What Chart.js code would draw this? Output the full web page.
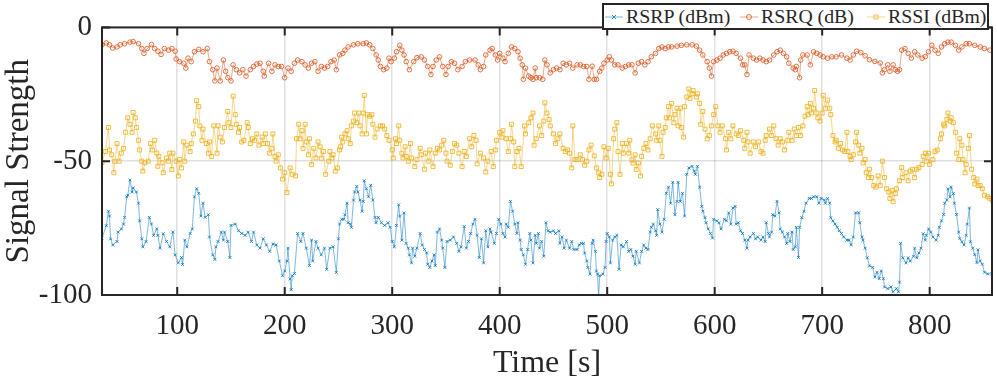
<!DOCTYPE html>
<html lang="en">
<head>
<meta charset="UTF-8">
<title>Signal Strength</title>
<script src="https://cdn.jsdelivr.net/npm/chart.js"></script>
<style>
  body { margin: 0; background: #fff; }
  .wrap { position: relative; width: 997px; height: 382px; }
  .legend { position: absolute; left: 602px; top: 3px; width: 387px; height: 27px; box-sizing: border-box;
            border: 2px solid #262626; background: #fff; font-family: "Liberation Serif", serif;
            font-size: 19.8px; color: #262626; }
  .legend .item { position: absolute; top: 0; height: 23px; display: flex; align-items: center; white-space: nowrap; }
  .legend svg { margin-right: 3px; }
</style>
</head>
<body>
<div class="wrap">
  <canvas id="signalChart" width="997" height="382"></canvas>
  <div class="legend">
    <span class="item" style="left:1px">
      <svg width="18" height="10"><line x1="0" y1="5" x2="18" y2="5" stroke="rgba(0,114,189,0.5)"/><path d="M7 3L11 7M11 3L7 7" stroke="rgba(0,114,189,0.8)"/></svg>RSRP (dBm)</span>
    <span class="item" style="left:136px">
      <svg width="18" height="10"><line x1="0" y1="5" x2="18" y2="5" stroke="rgba(217,83,25,0.5)"/><circle cx="9" cy="5" r="2.5" fill="none" stroke="rgba(217,83,25,0.8)"/></svg>RSRQ (dB)</span>
    <span class="item" style="left:263px">
      <svg width="18" height="10"><line x1="0" y1="5" x2="18" y2="5" stroke="rgba(237,177,32,0.5)"/><rect x="7" y="3" width="4" height="4" fill="none" stroke="rgba(237,177,32,0.8)"/></svg>RSSI (dBm)</span>
  </div>
</div>
<script>
  // tick positions
  const xTicks = [100, 200, 300, 400, 500, 600, 700, 800];
  const yTicks = [-100, -50, 0];

  // RSRP (dBm)
  const rsrpTime = [
    30,34,36,37,38,40,44,45,48,50,
    51,53,54,56,58,59,62,64,65,67,
    68,71,74,76,78,81,82,84,87,90,
    93,96,98,101,104,105,107,109,112,114,
    116,118,120,122,124,126,129,130,133,135,
    136,138,141,143,144,147,149,150,154,157,
    160,163,166,169,171,174,177,180,183,186,
    189,192,195,198,200,202,203,205,206,207,
    209,212,215,217,220,223,225,226,229,231,
    234,237,239,242,245,248,250,251,253,255,
    256,258,259,261,262,264,265,267,268,270,
    272,273,274,276,278,280,282,284,285,287,
    290,293,296,298,300,302,304,306,307,309,
    311,313,315,316,318,319,321,323,326,328,
    330,332,333,335,337,339,340,342,344,346,
    347,349,351,354,357,360,362,364,367,369,
    371,373,375,377,379,381,383,385,387,389,
    391,392,395,397,399,401,403,405,406,408,
    410,412,414,416,417,419,420,422,424,426,
    428,429,431,433,434,436,437,439,441,443,
    445,447,450,452,455,456,458,460,462,465,
    467,469,472,474,476,478,479,481,482,484,
    486,487,489,490,491,492,493,496,498,499,
    500,502,503,505,507,509,511,513,515,518,
    520,522,524,526,527,530,532,534,536,538,
    540,541,543,545,546,547,549,551,553,555,
    557,559,561,563,565,566,568,570,572,574,
    576,579,581,582,584,586,588,589,591,592,
    594,596,598,599,602,604,606,609,611,613,
    615,617,619,620,622,624,626,628,630,631,
    633,636,638,640,643,645,647,648,650,651,
    653,654,656,658,660,661,663,665,667,668,
    670,672,673,675,676,678,679,681,683,685,
    688,690,692,695,697,699,702,703,705,707,
    708,710,712,714,716,718,720,723,725,727,
    729,731,734,735,737,738,740,742,744,747,
    749,751,753,755,757,758,761,764,766,769,
    771,772,773,775,778,780,782,785,786,788,
    790,792,794,796,797,799,801,803,806,808,
    809,811,813,814,816,817,819,820,822,823,
    825,827,828,830,832,834,835,837,838,840,
    842,844,845,847,849,851,854,858
  ];
  const rsrpDbm = [
    -78.7,-74.1,-68.7,-70.5,-79,-81.3,-80,-76.5,-75.3,-73.5,
    -71,-63.3,-62.7,-57,-61.5,-60,-61.5,-65.7,-72.3,-79,
    -82,-80,-71,-73.5,-77.7,-75.3,-77.7,-82.5,-77.1,-80,
    -82,-76.5,-85,-88,-86,-88.6,-79.5,-82,-77,-75.3,
    -63.3,-60.3,-62,-70.5,-65.7,-71,-70,-78.3,-85,-86.7,
    -82,-80,-76.5,-79.5,-76.5,-80,-86,-74,-73.5,-76,
    -77,-77.7,-76.5,-80,-76.5,-81.3,-82.5,-79,-81.3,-83.7,
    -81,-81.3,-87.3,-92.8,-91,-87.3,-82.5,-94,-98,-92.8,
    -92,-77,-80,-77,-82.5,-89,-79.5,-87.3,-80,-82.5,
    -85,-82.5,-90.4,-82.5,-82,-91.6,-79,-73.5,-71.7,-71.7,
    -70,-65.7,-73,-73.5,-74.7,-64.5,-61.5,-59.4,-61.5,-64.5,
    -68.7,-65,-57.3,-60.3,-63.3,-59,-64.5,-71,-73,-71,
    -73,-74,-73,-74.7,-80,-82,-74,-66.3,-70.5,-79.5,
    -69.3,-80.7,-82.5,-85,-88,-82.5,-85.5,-82.5,-77,-81.3,
    -83,-84.3,-88.5,-89.7,-87.3,-85,-89,-76.5,-75.3,-79.5,
    -82.5,-89.7,-80,-79.5,-78.3,-80.7,-83.7,-82,-74.4,-82.5,
    -80,-77,-73.5,-71.7,-77.7,-86,-79,-88,-76,-82,
    -75.3,-76.5,-80.7,-77,-71.7,-73.5,-77,-78.3,-73.5,-74.7,
    -65,-68.7,-73.5,-77,-73,-79.5,-83,-85,-88.5,-83,
    -77,-79.5,-88,-77.7,-80.7,-77,-82.5,-80,-85.5,-73,
    -76,-76.5,-76,-77,-76,-80.7,-78.3,-82.5,-79.5,-82.5,
    -80,-83,-83,-81.3,-80.7,-80.7,-84.3,-87.3,-89.7,-92.2,
    -80.7,-79.5,-83.7,-91,-92.2,-101,-92.8,-92.2,-89.7,-80,
    -77,-78.3,-88,-79.5,-78.3,-77.7,-90.4,-81.3,-82,-80,
    -83.7,-83,-85.5,-88.5,-83.7,-88,-83.7,-81.3,-82.5,-83,
    -76.5,-74.7,-73.5,-76,-77.7,-68.1,-73.5,-76.5,-71.7,-62,
    -59.7,-65.7,-57.9,-70,-65,-57.9,-65,-62,-70.5,-54.9,
    -52.5,-51.9,-53.7,-54.9,-51.9,-59.7,-66.9,-68.7,-71.1,-73,
    -75.3,-77,-78.7,-71.7,-72.3,-73,-75.3,-71.7,-72.3,-69.3,
    -73.5,-67.5,-66.9,-73.5,-73,-76,-77,-79.5,-82.5,-79.5,
    -78.3,-77,-79,-78.3,-79.5,-78.3,-80,-73,-77,-78.3,
    -76.5,-70,-70.5,-65,-69.3,-75.3,-76.5,-78.3,-80.7,-77,
    -80,-76.5,-83,-82,-74.7,-86,-74.7,-71.1,-68.7,-65.7,
    -63.9,-63.9,-63.3,-63.3,-65.7,-63.9,-64.5,-65.7,-63.9,-65.7,
    -71.1,-72.3,-73.5,-74.7,-76,-77,-78.3,-79.5,-79.5,-81.3,
    -78.3,-69.3,-69.3,-73,-78.3,-79.5,-82.5,-86.1,-89.1,-89.7,
    -93.3,-91.5,-93.9,-91,-93.9,-97,-97.6,-97,-98.8,-97.6,
    -98.8,-95.2,-80.7,-86.1,-88,-86.1,-87.3,-85.5,-82.5,-86.1,
    -84.3,-82.5,-77.1,-79.5,-77.7,-75.3,-76.5,-78.3,-79.5,-77.7,
    -74.7,-72.3,-69.9,-65.7,-64.5,-60.3,-63.3,-59.7,-62.1,-65.7,
    -69.9,-76.5,-78.9,-80.1,-81.3,-77.7,-73.5,-67.5,-80.1,-82.5,
    -84.9,-87.9,-83.1,-87.3,-88.5,-91.5,-92.1,-92.1
  ];

  // RSRQ (dB)
  const rsrqTime = [
    30,34,37,40,44,47,51,56,59,64,
    67,69,72,76,79,82,85,88,92,95,
    98,99,102,106,108,110,113,116,120,124,
    128,130,133,135,137,140,143,145,147,150,
    152,155,158,161,164,168,171,174,177,180,
    181,185,188,191,194,197,200,203,206,209,
    212,216,219,222,225,228,231,234,237,240,
    243,246,248,251,254,256,259,264,268,273,
    276,279,282,285,287,289,292,295,297,299,
    302,304,307,309,311,313,316,320,323,327,
    330,333,336,338,341,344,347,350,352,355,
    358,361,365,368,372,377,380,382,385,387,
    391,393,396,398,400,403,405,408,411,414,
    417,419,421,422,424,427,429,431,433,434,
    437,440,442,444,447,450,453,456,459,462,
    465,468,472,475,478,481,483,486,488,490,
    493,495,497,500,502,504,507,510,514,517,
    520,523,526,529,532,535,538,541,545,548,
    551,554,557,560,565,569,574,579,583,586,
    589,593,595,597,599,602,605,608,611,614,
    617,620,624,626,628,630,632,636,639,642,
    645,648,651,655,658,661,664,667,669,673,
    675,676,679,680,682,686,689,692,695,698,
    701,705,709,713,718,723,726,729,732,736,
    740,744,749,754,756,758,761,763,766,768,
    770,772,774,777,780,783,786,789,793,796,
    799,802,805,808,811,814,817,820,824,827,
    830,834,837,842,847,851,856
  ];
  const rsrqDb = [
    -6.5,-5.8,-6.5,-7.7,-7.3,-6.5,-6.1,-5.5,-5.3,-6.1,
    -7.9,-9.7,-7.9,-6.4,-7.9,-8.9,-10.1,-7.9,-8.5,-7.9,
    -8.9,-11.8,-12.8,-13.4,-15.2,-11.5,-12.8,-9.1,-8.2,-9.1,
    -7.9,-12.8,-15.8,-20,-15.2,-20,-12.2,-16.4,-18.8,-20,
    -14,-15.8,-17,-15.8,-18.2,-15.8,-14.6,-13.7,-13.4,-16.4,
    -18.2,-13.4,-16.4,-14,-14.6,-14.6,-18.8,-15.2,-16.4,-13.4,
    -12.2,-12.8,-14,-15.2,-13.4,-12.8,-16.4,-14.6,-15.2,-14.6,
    -12.8,-12.2,-15.8,-10.3,-9.7,-8.5,-7.3,-6.5,-6.1,-6.1,
    -5.8,-6.5,-7.9,-10.3,-12.2,-14.6,-15.8,-15.2,-11.5,-12.8,
    -11.5,-9.1,-6.7,-8.5,-10.3,-12.8,-15.8,-12.8,-11.3,-11,
    -12.2,-14.6,-17.6,-14.6,-12.2,-11,-14.6,-17.6,-14.6,-12.8,
    -13.4,-15.8,-14.6,-12.8,-12.2,-12.2,-14,-15.8,-14.6,-10.3,
    -8.5,-7.9,-10.3,-12.2,-9.7,-11.5,-12.8,-9.7,-7.3,-7.9,
    -9.1,-11.5,-14,-19.4,-15.2,-18.2,-18.8,-19.4,-15.2,-18.8,
    -18.8,-19.4,-12.2,-14,-17,-15.8,-15.2,-15.8,-13.4,-14,
    -13.4,-15.2,-14,-14,-14.6,-14.6,-19.4,-14.5,-19.4,-19.4,
    -16.4,-15.2,-13.4,-12.2,-11,-12.2,-14,-14,-15.2,-14.6,
    -14,-14,-17,-13.4,-12.8,-14,-12.8,-11,-9.7,-7.9,
    -7.3,-7.9,-7.3,-7.3,-7,-6.7,-6.5,-6.5,-7,-8.5,
    -10.3,-12.8,-15.2,-18.2,-12.8,-12.2,-11.5,-10.3,-9.7,-9.1,
    -8.9,-9.7,-11.5,-14,-14,-17.6,-10.3,-11.5,-12.2,-11.5,
    -12.2,-12.8,-12.2,-10.3,-9.1,-8.5,-9.7,-11,-13.4,-15.2,
    -15.8,-14.6,-18.8,-12.2,-10.3,-10.3,-14,-9.1,-9.7,-10.3,
    -11,-11.5,-11,-11,-10.3,-11.5,-12.2,-10.3,-8.9,-9.4,
    -10.6,-12.1,-12.7,-13.3,-17,-15.8,-14,-16.4,-14,-15.8,
    -16.4,-15.8,-8.5,-7.9,-9.7,-11.5,-9.1,-10.3,-11.5,-10.9,
    -9.1,-6.7,-8.5,-9.7,-7.3,-6.1,-5.5,-5.5,-6.7,-8.5,
    -7.3,-6.1,-6.1,-6.7,-7.3,-7.9,-8.5
  ];

  // RSSI (dBm)
  const rssiTime = [
    30,33,36,37,39,41,42,44,46,48,
    50,52,54,56,58,59,61,62,64,65,
    67,68,70,73,75,77,79,81,82,83,
    86,87,90,92,93,95,96,99,101,102,
    104,106,107,109,112,113,115,117,118,120,
    121,123,124,127,129,130,132,134,137,138,
    140,142,144,147,148,150,152,154,155,157,
    158,160,162,165,166,168,170,172,174,176,
    179,180,182,184,186,188,189,191,192,194,
    196,198,200,202,205,207,210,211,213,214,
    216,217,219,220,222,223,225,227,229,231,
    233,234,236,238,241,242,244,245,247,249,
    251,252,253,254,256,258,259,261,262,264,
    265,267,269,270,272,273,274,276,277,279,
    281,282,284,286,289,291,293,295,297,300,
    301,303,304,306,307,309,310,312,313,315,
    317,318,321,323,326,327,330,331,334,335,
    338,340,342,344,346,348,350,351,354,356,
    358,360,362,365,367,369,372,374,376,378,
    379,382,385,387,389,392,394,396,397,400,
    402,403,406,408,410,411,413,414,416,418,
    420,423,424,427,429,431,432,434,437,439,
    441,442,444,446,447,450,452,454,456,459,
    461,463,465,467,468,470,472,475,477,479,
    481,483,485,488,490,492,493,495,497,499,
    501,503,504,506,507,509,510,512,514,515,
    518,520,521,523,524,526,527,529,531,532,
    534,536,538,540,542,545,546,548,549,551,
    552,554,555,557,558,560,562,563,565,566,
    568,569,571,572,574,576,577,579,580,583,
    584,586,587,589,591,593,595,597,599,601,
    603,605,607,610,611,613,615,617,620,622,
    624,627,628,630,631,633,636,638,641,643,
    645,647,648,651,653,655,657,659,661,663,
    665,668,669,672,674,676,678,680,682,684,
    686,687,689,690,692,693,695,696,698,700,
    701,703,705,707,708,710,712,713,715,717,
    719,721,723,724,726,727,729,731,732,734,
    735,737,738,740,741,743,744,746,748,750,
    752,754,756,758,760,762,763,765,766,768,
    769,772,774,775,778,780,782,784,786,788,
    790,793,794,796,797,799,800,803,805,807,
    810,811,813,814,816,817,819,820,822,824,
    825,827,828,830,831,833,834,836,837,839,
    841,842,844,845,847,849,851,854,856,858
  ];
  const rssiDbm = [
    -50.5,-46.4,-37.4,-45.8,-47.6,-54.3,-50,-43.4,-50,-47,
    -45.2,-39.2,-33.8,-36.2,-39.2,-31.8,-33.8,-37.4,-42.2,-45.8,
    -50,-53.7,-50.6,-50,-43.4,-45.8,-42.2,-47,-51.9,-48.2,
    -50.6,-54.3,-48.8,-50,-47,-53.1,-47,-50,-55.5,-49.4,
    -52.5,-42.8,-50,-44,-46.4,-43.4,-39.8,-35,-27.4,-29.6,
    -36.8,-42.2,-38,-43.4,-47,-42.8,-48.2,-36.8,-47,-36.8,
    -41,-42.8,-37.4,-31.4,-35.6,-37.4,-25.7,-32.6,-36.2,-39.2,
    -37.4,-42.8,-42.2,-35.6,-37.4,-43.4,-41.6,-42.2,-39.8,-44,
    -41,-43.4,-39.8,-43.4,-47,-45.2,-39.8,-48.2,-50,-47.6,
    -52.5,-56.7,-54.3,-61.7,-52.5,-54.9,-55.5,-41.6,-36.2,-41.6,
    -38.6,-45.2,-36.2,-42.8,-47.6,-41.6,-51.3,-45.2,-48.8,-42.8,
    -44.6,-48.9,-46.4,-54.9,-50,-46.4,-48.8,-47.6,-53.7,-52.5,
    -45.8,-44.6,-41,-42.8,-39.8,-38.6,-41.6,-43.4,-36.8,-35,
    -32,-35.6,-32,-36.8,-39.8,-32,-25.4,-39.8,-32.6,-33.2,
    -32.6,-36.2,-41,-38,-36.8,-36.8,-38,-40.4,-42.2,-45.8,
    -48.8,-41.6,-43.4,-36.8,-42.2,-47,-48.8,-44.6,-48.2,-50,
    -43.4,-48.8,-52,-49.4,-45.2,-47.6,-53,-47,-50,-45.8,
    -52,-47,-45.2,-45.8,-44,-42.2,-47,-50,-51.5,-46.4,
    -43.4,-44,-47,-52,-46.4,-48.2,-41.6,-44.6,-40.4,-42.2,
    -51,-47,-48.8,-54,-50,-46.4,-52,-45.8,-42.2,-39.2,
    -41,-38.6,-41.6,-46.4,-41.6,-36.2,-42.8,-52,-46.4,-45.2,
    -52,-36.8,-39.8,-35.6,-33.8,-32,-44,-41.6,-36.8,-40.4,
    -35,-28.2,-32,-34.4,-36.8,-39.8,-43.4,-41.6,-39.8,-45.2,
    -46.4,-45.8,-47,-52.5,-36.8,-49.4,-49.4,-47.6,-49.4,-51.5,
    -50,-45.8,-44,-48,-52.5,-54.3,-56.1,-54.9,-44.6,-48.8,
    -45.2,-54.9,-58.5,-41.6,-38,-35.6,-46.4,-54.9,-43.4,-47,
    -43.4,-47,-42.2,-49.5,-50.7,-47.6,-53.1,-50.7,-55.5,-48.2,
    -45.2,-43.4,-45.8,-41.6,-36.8,-39.8,-42.2,-36.8,-42.2,-48.2,
    -39.2,-37.4,-33.8,-29.6,-33.8,-28.4,-35.6,-32.6,-30.2,-36.8,
    -30.2,-37.4,-41,-29.6,-26,-23,-26.6,-24.8,-23.6,-26,
    -24.8,-28.4,-36.2,-31.4,-38,-41.6,-40.4,-36.8,-32.6,-29.6,
    -36.8,-39.2,-36.8,-41.6,-45.8,-39.2,-41.6,-36.8,-39.8,-40.4,
    -38.6,-42.2,-45.2,-39.2,-42.8,-47,-42.8,-44.6,-42.8,-46.4,
    -47,-42.2,-40.4,-38,-40.4,-36.8,-41.6,-44,-41.6,-42.8,
    -45.8,-42.2,-39.2,-42.2,-38,-40.4,-37.4,-40.4,-36.8,-33.2,
    -29.6,-32.6,-28.4,-32,-30.2,-23.6,-32,-33.8,-35,-32,
    -25.4,-30.2,-27.2,-30.2,-32.6,-40.4,-42.8,-42.2,-45.2,-43.4,
    -45.8,-46.4,-39.2,-46.4,-48.2,-49.4,-47.6,-42.8,-39.2,-44,
    -47,-45.2,-50.6,-49.4,-54.3,-56.1,-53,-56.1,-59.1,-59.7,
    -55.5,-59.1,-50,-56.1,-60.3,-61.5,-63.9,-60.9,-65.1,-62.1,
    -60.3,-57.3,-52.4,-56.1,-54.3,-57.3,-53.7,-53,-56.1,-53,
    -52.4,-51.2,-48.2,-47,-50,-47,-51.2,-49.4,-46.4,-45.8,
    -41.6,-39.8,-36.2,-36.8,-34.4,-32,-35,-33.8,-35.6,-39.2,
    -47,-49.4,-41.6,-44,-49.4,-54.3,-51.2,-45.2,-40.4,-53,
    -56.1,-58.5,-56.7,-59.1,-59.1,-60.3,-62.7,-63.3,-63.9,-64.5
  ];

  const pairs = (ts, vs) => ts.map((t, i) => ({ x: t, y: vs[i] }));

  // box round the plot with inward ticks on all four sides
  const frame = {
    id: 'frame',
    afterDraw(chart) {
      const { ctx, chartArea: a, scales: { x, y } } = chart;
      ctx.save();
      ctx.strokeStyle = '#262626';
      ctx.lineWidth = 2;
      ctx.strokeRect(a.left, a.top, a.right - a.left, a.bottom - a.top);
      ctx.beginPath();
      xTicks.forEach(v => {
        const px = x.getPixelForValue(v);
        ctx.moveTo(px, a.bottom); ctx.lineTo(px, a.bottom - 8);
        ctx.moveTo(px, a.top); ctx.lineTo(px, a.top + 8);
      });
      yTicks.forEach(v => {
        const py = y.getPixelForValue(v);
        ctx.moveTo(a.left, py); ctx.lineTo(a.left + 8, py);
        ctx.moveTo(a.right, py); ctx.lineTo(a.right - 8, py);
      });
      ctx.stroke();
      ctx.restore();
    }
  };

  const serif = '"Liberation Serif", "DejaVu Serif", serif';
  const ink = '#262626';

  new Chart(document.getElementById('signalChart'), {
    type: 'line',
    data: {
      datasets: [{
        label: 'RSRP (dBm)',
        data: pairs(rsrpTime, rsrpDbm),
        borderColor: 'rgba(0,114,189,0.5)',
        borderWidth: 1,
        pointStyle: 'crossRot',
        pointRadius: 2,
        pointBorderColor: 'rgba(0,114,189,0.8)',
        pointBorderWidth: 1
      }, {
        label: 'RSRQ (dB)',
        data: pairs(rsrqTime, rsrqDb),
        borderColor: 'rgba(217,83,25,0.5)',
        borderWidth: 1,
        pointStyle: 'circle',
        pointRadius: 2.3,
        pointBackgroundColor: 'rgba(255,255,255,0)',
        pointBorderColor: 'rgba(217,83,25,0.8)',
        pointBorderWidth: 1
      }, {
        label: 'RSSI (dBm)',
        data: pairs(rssiTime, rssiDbm),
        borderColor: 'rgba(237,177,32,0.5)',
        borderWidth: 1,
        pointStyle: 'rect',
        pointRadius: 2.8,
        pointBackgroundColor: 'rgba(255,255,255,0)',
        pointBorderColor: 'rgba(237,177,32,0.85)',
        pointBorderWidth: 1
      }]
    },
    options: {
      responsive: false,
      animation: false,
      devicePixelRatio: 1,
      layout: { padding: { top: 18, right: 5, left: 0, bottom: 0 } },
      plugins: { legend: { display: false }, tooltip: { enabled: false } },
      scales: {
        x: {
          type: 'linear',
          min: 30,
          max: 858,
          afterBuildTicks: s => { s.ticks = xTicks.map(v => ({ value: v })); },
          afterFit: s => { s.height = 87; },
          grid: { color: 'rgba(0,0,0,0.12)', lineWidth: 1.5, drawTicks: false },
          border: { display: false },
          ticks: { color: ink, padding: 14, font: { family: serif, size: 29 } },
          title: { display: true, text: 'Time [s]', color: ink,
                   font: { family: serif, size: 32, lineHeight: 1 }, padding: { top: 0, bottom: 2 } }
        },
        y: {
          min: -100,
          max: 0,
          afterBuildTicks: s => { s.ticks = yTicks.map(v => ({ value: v })); },
          afterFit: s => { s.width = 102; },
          grid: { color: 'rgba(0,0,0,0.12)', lineWidth: 1.5, drawTicks: false },
          border: { display: false },
          ticks: { color: ink, padding: 10, font: { family: serif, size: 29 } },
          title: { display: true, text: 'Signal Strength', color: ink,
                   font: { family: serif, size: 33, lineHeight: 1 }, padding: { top: 3, bottom: 0 } }
        }
      }
    },
    plugins: [frame]
  });
</script>
</body>
</html>
